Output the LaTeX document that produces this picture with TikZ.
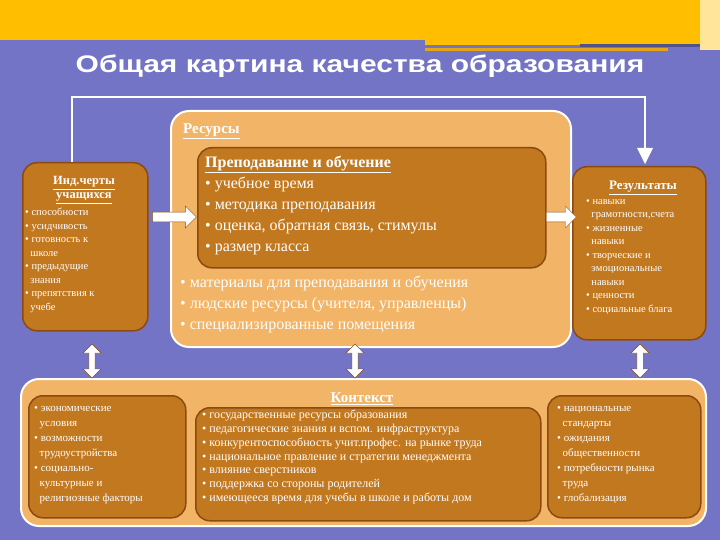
\documentclass[tikz,border=0pt]{standalone}
\usepackage{fontspec}
\setmainfont{Liberation Serif}
\newfontfamily\titlefont{Liberation Sans}
\usetikzlibrary{shapes.arrows}
\definecolor{bg}{HTML}{7474C6}
\definecolor{yel}{HTML}{FFBF00}
\definecolor{lor}{HTML}{F2B466}
\definecolor{dor}{HTML}{C2781F}
\definecolor{bor}{HTML}{8A4A12}
\tikzset{
 outer/.style={draw=white,line width=2pt,fill=lor,rounded corners=18pt},
 inner/.style={draw=bor,line width=1.5pt,fill=dor,rounded corners=14pt},
 txt/.style={text=white,align=left,inner sep=0pt,anchor=north west},
 hdr/.style={text=white,inner sep=0pt},
 barrow/.style={single arrow,draw=bor,fill=white,minimum height=44pt,minimum width=22pt,single arrow head extend=4pt,inner sep=3pt},
 darrow/.style={double arrow,draw=bor,fill=white,minimum height=34pt,minimum width=18pt,double arrow head extend=4pt,inner sep=2pt,rotate=90},
}
\begin{document}
\begin{tikzpicture}[x=1pt,y=-1pt]
\useasboundingbox (0,0) rectangle (720,540);
\fill[bg] (0,0) rectangle (720,540);
\fill[yel] (0,0) -- (700,0) -- (700,45) -- (425,45) -- (425,40) -- (0,40) -- cycle;
\fill[yel!40] (700,0) rectangle (720,50);
\fill[yel!60!brown] (425,48) rectangle (668,51);
\fill[bg!70!black] (580,44) rectangle (700,47);
\node[hdr,font=\titlefont\bfseries\fontsize{24}{28}\selectfont,xscale=1.25] (title) at (360,66) {Общая картина качества образования};
% big resources box
\node[outer,minimum width=400pt,minimum height=236pt,anchor=north west] (res) at (170,110) {};
\node[hdr,anchor=west,font=\fontsize{15}{17}\selectfont\bfseries] (reslab) at (183,131) {\underline{Ресурсы}};
\node[inner,minimum width=348pt,minimum height=120pt,anchor=north west] (teach) at (197,147) {};
\node[txt,font=\fontsize{16}{21}\selectfont] (teachtxt) at (205,156) {\textbf{\underline{Преподавание и обучение}}\\• учебное время\\• методика преподавания\\• оценка, обратная связь, стимулы\\• размер класса};
\node[txt,font=\fontsize{16}{21}\selectfont] (resb) at (180,276) {• материалы для преподавания и обучения\\• людские ресурсы (учителя, управленцы)\\• специализированные помещения};
% left box
\node[inner,minimum width=125pt,minimum height=168pt,anchor=north west] (ind) at (22,162) {};
\node[hdr,align=center,font=\fontsize{12.5}{14}\selectfont\bfseries] (indh) at (84,190) {\underline{Инд.черты}\\\underline{учащихся}};
\node[txt,font=\fontsize{10.5}{13.5}\selectfont] (indt) at (25,208) {• способности\\• усидчивость\\• готовность к\\\ \ школе\\• предыдущие\\\ \ знания\\• препятствия к\\\ \ учебе};
% results box
\node[inner,minimum width=133pt,minimum height=173pt,anchor=north west] (out) at (572,166) {};
\node[hdr,font=\fontsize{13}{15}\selectfont\bfseries] (outh) at (643,188) {\underline{Результаты}};
\node[txt,font=\fontsize{10.5}{13.5}\selectfont] (outt) at (586,199) {• навыки\\\ \ грамотности,счета\\• жизненные\\\ \ навыки\\• творческие и\\\ \ эмоциональные\\\ \ навыки\\• ценности\\• социальные блага};
% horizontal arrows
\node[barrow] (a1) at (172,217) {};
\node[barrow,minimum height=30pt] (a2) at (559,217) {};
% feedback
\coordinate (fb1) at (72,162);
\coordinate (fb2) at (72,97);
\coordinate (fb3) at (645,97);
\draw[white,line width=2pt] (fb1) -- (fb2) -- (fb3) -- (645,150);
\fill[white] (637,148) -- (653,148) -- (645,164) -- cycle;
% context box
\node[outer,minimum width=685pt,minimum height=147pt,anchor=north west] (ctx) at (20,378) {};
\node[hdr,font=\fontsize{15}{17}\selectfont\bfseries] (ctxh) at (362,399) {\underline{Контекст}};
\node[inner,minimum width=157pt,minimum height=122pt,anchor=north west] (c1) at (28,395) {};
\node[txt,font=\fontsize{11}{15}\selectfont] (c1t) at (34,406) {• экономические\\\ \ условия\\• возможности\\\ \ трудоустройства\\• социально-\\\ \ культурные и\\\ \ религиозные факторы};
\node[inner,minimum width=345pt,minimum height=113pt,anchor=north west] (c2) at (195,407) {};
\node[txt,font=\fontsize{12}{13.8}\selectfont] (c2t) at (202,410) {• государственные ресурсы образования\\• педагогические знания и вспом. инфраструктура\\• конкурентоспособность  учит.профес. на рынке труда\\• национальное правление и стратегии менеджмента\\• влияние сверстников\\• поддержка со стороны родителей\\• имеющееся время для учебы в школе и  работы дом};
\node[inner,minimum width=153pt,minimum height=122pt,anchor=north west] (c3) at (547,395) {};
\node[txt,font=\fontsize{11}{15}\selectfont] (c3t) at (557,406) {• национальные\\\ \ стандарты\\• ожидания\\\ \ общественности\\• потребности рынка\\\ \ труда\\• глобализация};
% double arrows
\node[darrow] (d1) at (92,361) {};
\node[darrow] (d2) at (355,361) {};
\node[darrow] (d3) at (640,361) {};
\end{tikzpicture}
\end{document}
